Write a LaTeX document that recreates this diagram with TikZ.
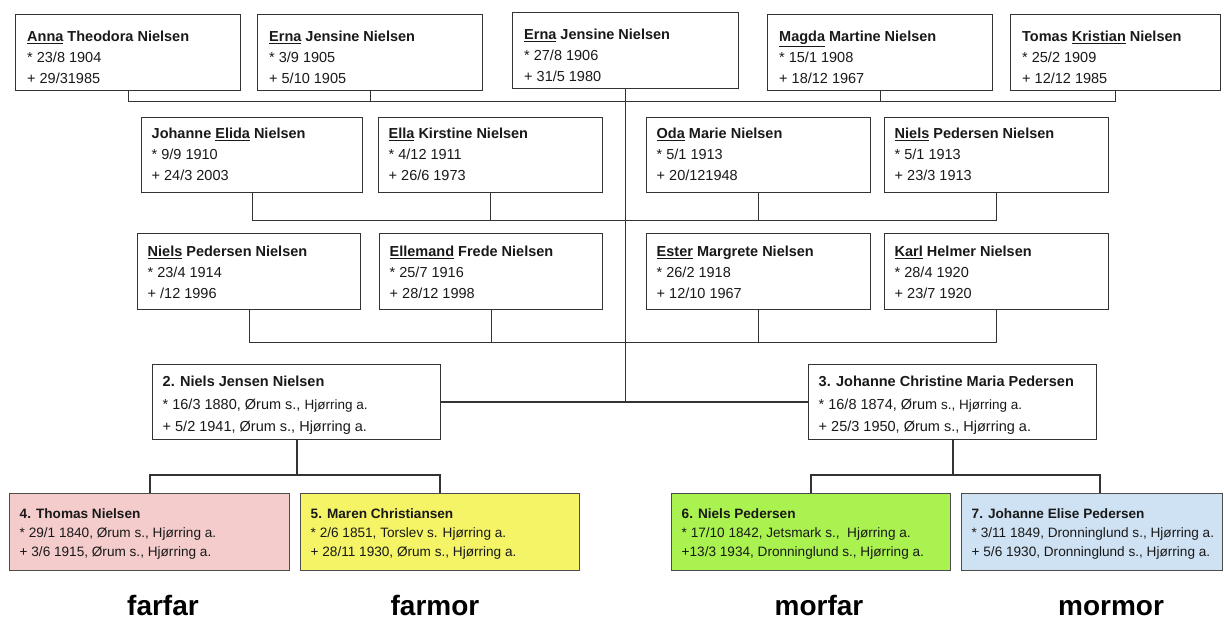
\documentclass[tikz,border=0pt]{standalone}
\usepackage{fontspec}
\setmainfont{Liberation Sans}
\usetikzlibrary{calc}
\definecolor{pinkf}{HTML}{F4CCCC}
\definecolor{yellowf}{HTML}{F4F466}
\definecolor{greenf}{HTML}{AAF24F}
\definecolor{bluef}{HTML}{CFE2F3}
\definecolor{edgec}{HTML}{333333}
\tikzset{
  pbox/.style={draw=edgec, line width=0.9pt, anchor=north west, inner sep=0pt, fill=white},
  ptext/.style={anchor=north west, inner sep=0pt, align=left, text=black!90},
  toptext/.style={font=\fontsize{14.5}{21}\selectfont},
  midtext/.style={font=\fontsize{14.5}{22.5}\selectfont},
  bottext/.style={font=\fontsize{13.6}{19}\selectfont},
  conn/.style={draw=edgec, line width=0.9pt},
  kid/.style={draw=edgec, line width=2pt},
  lab/.style={anchor=base, inner sep=0pt, font=\fontsize{28}{30}\selectfont\bfseries},
}
% #1 box options, #2 name, #3 x, #4 y, #5 w, #6 h, #7 text offset, #8 text style, #9 text
\newcommand{\person}[9][]{%
  \node[pbox, #1, minimum width=#5pt, minimum height=#6pt] (#2) at (#3,#4) {};
  \node[ptext, #8] (#2-t) at ([xshift=10.5pt,yshift=-#7pt]#2.north west) {#9};
}
\newcommand{\smallpart}[1]{{\fontsize{13.5}{22.5}\selectfont #1}}
\begin{document}
\begin{tikzpicture}[x=1pt,y=-1pt]
\useasboundingbox (0,0) rectangle (1224,622);

% Row 1
\person{anna}{15}{14}{225}{76}{17}{toptext, xshift=1.5pt}{\textbf{\underline{Anna} Theodora Nielsen}\\* 23/8 1904\\+ 29/31985}
\person{ernaA}{257}{14}{225}{76}{17}{toptext, xshift=1.5pt}{\textbf{\underline{Erna} Jensine Nielsen}\\* 3/9 1905\\+ 5/10 1905}
\person{ernaB}{512}{12}{226}{76}{17}{toptext, xshift=1.5pt}{\textbf{\underline{Erna} Jensine Nielsen}\\* 27/8 1906\\+ 31/5 1980}
\person{magda}{767}{14}{225}{76}{17}{toptext, xshift=1.5pt}{\textbf{\underline{Magda} Martine Nielsen}\\* 15/1 1908\\+ 18/12 1967}
\person{tomas}{1010}{14}{210}{76}{17}{toptext, xshift=1.5pt}{\textbf{Tomas \underline{Kristian} Nielsen}\\* 25/2 1909\\+ 12/12 1985}

% Row 2
\person{johanne}{141}{117}{221}{75}{11}{toptext}{\textbf{Johanne \underline{Elida} Nielsen}\\* 9/9 1910\\+ 24/3 2003}
\person{ella}{378}{117}{224}{75}{11}{toptext}{\textbf{\underline{Ella} Kirstine Nielsen}\\* 4/12 1911\\+ 26/6 1973}
\person{oda}{646}{117}{224}{75}{11}{toptext}{\textbf{\underline{Oda} Marie Nielsen}\\* 5/1 1913\\+ 20/121948}
\person{nielsA}{884}{117}{224}{75}{11}{toptext}{\textbf{\underline{Niels} Pedersen Nielsen}\\* 5/1 1913\\+ 23/3 1913}

% Row 3
\person{nielsB}{137}{233}{223}{76}{13}{toptext}{\textbf{\underline{Niels} Pedersen Nielsen}\\* 23/4 1914\\+ /12 1996}
\person{ellemand}{379}{233}{223}{76}{13}{toptext}{\textbf{\underline{Ellemand} Frede Nielsen}\\* 25/7 1916\\+ 28/12 1998}
\person{ester}{646}{233}{224}{76}{13}{toptext}{\textbf{\underline{Ester} Margrete Nielsen}\\* 26/2 1918\\+ 12/10 1967}
\person{karl}{884}{233}{224}{76}{13}{toptext}{\textbf{\underline{Karl} Helmer Nielsen}\\* 28/4 1920\\+ 23/7 1920}

% Row 4 (parents)
\person[line width=1.3pt]{nj}{152}{364}{288}{75}{12}{midtext}{\textbf{2. Niels Jensen Nielsen}\\* 16/3 1880, Ørum s., \smallpart{Hjørring a.}\\+ 5/2 1941, Ørum s., Hjørring a.}
\person[line width=1.3pt]{jc}{808}{364}{288}{75}{12}{midtext}{\textbf{3. Johanne Christine Maria Pedersen}\\* 16/8 1874, Ørum \smallpart{s., Hjørring a.}\\+ 25/3 1950, Ørum s., Hjørring a.}

% Row 5 (grandparents)
\person[fill=pinkf, draw=black!70, line width=1.3pt]{thomas}{9}{493}{280}{77}{15}{bottext}{\textbf{4. Thomas Nielsen}\\* 29/1 1840, Ørum s., Hjørring a.\\+ 3/6 1915, Ørum s., Hjørring a.}
\person[fill=yellowf, draw=black!70, line width=1.3pt]{maren}{300}{493}{279}{77}{15}{bottext}{\textbf{5. Maren Christiansen}\\* 2/6 1851, Torslev s. Hjørring a.\\+ 28/11 1930, Ørum s., Hjørring a.}
\person[fill=greenf, draw=black!70, line width=1.3pt]{nielsP}{671}{493}{279}{77}{15}{bottext}{\textbf{6. Niels Pedersen}\\* 17/10 1842, Jetsmark s.,\ \ Hjørring a.\\+13/3 1934, Dronninglund s., Hjørring a.}
\person[fill=bluef, draw=black!70, line width=1.3pt]{jelise}{961}{493}{261}{77}{15}{bottext}{\textbf{7. Johanne Elise Pedersen}\\* 3/11 1849, Dronninglund s., Hjørring a.\\+ 5/6 1930, Dronninglund s., Hjørring a.}

% connectors row 1
\coordinate (bus1) at (0,101);
\draw[conn] (anna.south) -- (anna.south |- bus1) -- (tomas.south |- bus1) -- (tomas.south);
\draw[conn] (ernaA.south) -- (ernaA.south |- bus1);
\draw[conn] (magda.south) -- (magda.south |- bus1);
\draw[conn] (ernaB.south) -- (ernaB.south |- nj.east);

% connectors row 2
\coordinate (bus2) at (0,220);
\draw[conn] (johanne.south) -- (johanne.south |- bus2) -- (nielsA.south |- bus2) -- (nielsA.south);
\draw[conn] (ella.south) -- (ella.south |- bus2);
\draw[conn] (oda.south) -- (oda.south |- bus2);

% connectors row 3
\coordinate (bus3) at (0,342);
\draw[conn] (nielsB.south) -- (nielsB.south |- bus3) -- (karl.south |- bus3) -- (karl.south);
\draw[conn] (ellemand.south) -- (ellemand.south |- bus3);
\draw[conn] (ester.south) -- (ester.south |- bus3);

% couple
\draw[kid] (nj.east) -- (jc.west);

% to grandparents
\coordinate (bus4) at (0,475);
\draw[kid] (nj.south) -- (nj.south |- bus4);
\draw[kid] (thomas.north) -- (thomas.north |- bus4) -- (maren.north |- bus4) -- (maren.north);
\draw[kid] (jc.south) -- (jc.south |- bus4);
\draw[kid] (nielsP.north) -- (nielsP.north |- bus4) -- ([xshift=8pt]jelise.north |- bus4) -- ([xshift=8pt]jelise.north);

% labels
\node[lab] (farfar) at (163,615) {farfar};
\node[lab] (farmor) at (435,615) {farmor};
\node[lab] (morfar) at (819,615) {morfar};
\node[lab] (mormor) at (1111,615) {mormor};
\end{tikzpicture}
\end{document}
